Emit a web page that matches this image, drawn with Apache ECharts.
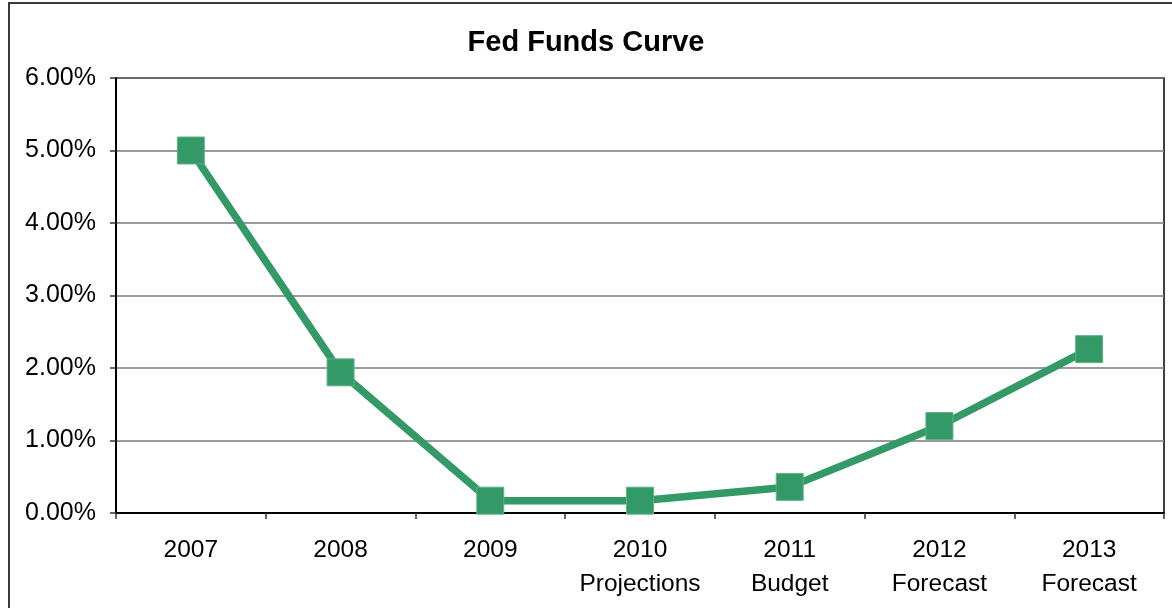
<!DOCTYPE html>
<html>
<head>
<meta charset="utf-8">
<title>Fed Funds Curve</title>
<script src="https://cdn.jsdelivr.net/npm/echarts@6/dist/echarts.min.js"></script>
<style>
  html, body { margin: 0; padding: 0; background: #fff; overflow: hidden; }
  #chart { width: 1172px; height: 608px; }
</style>
</head>
<body>
<div id="chart"></div>
<script>
// Fed funds rate by year (percent)
const years = ['2007', '2008', '2009', '2010', '2011', '2012', '2013'];
const subLabels = ['', '', '', 'Projections', 'Budget', 'Forecast', 'Forecast'];
const rates = [5.00, 1.94, 0.17, 0.17, 0.36, 1.20, 2.26];
const yTicks = { min: 0, max: 6, interval: 1 };

const categories = years.map((y, i) => subLabels[i] ? y + '\n' + subLabels[i] : y);

const chart = echarts.init(document.getElementById('chart'));
const font = '"Liberation Sans", Arial, sans-serif';

chart.setOption({
  animation: false,
  backgroundColor: '#fff',
  title: {
    text: 'Fed Funds Curve',
    left: 'center',
    top: 23,
    textStyle: { fontFamily: font, fontSize: 29, fontWeight: 'bold', color: '#000' }
  },
  graphic: [{
    type: 'rect',
    shape: { x: 9, y: 3, width: 1300, height: 800 },
    style: { fill: 'none', stroke: '#3a3a3a', lineWidth: 2 },
    silent: true
  }],
  grid: {
    left: 116, right: 8, top: 78, bottom: 95,
    show: true, borderColor: '#000', borderWidth: 1.5, backgroundColor: 'transparent'
  },
  xAxis: {
    type: 'category',
    data: categories,
    boundaryGap: true,
    axisLine: { lineStyle: { color: '#000', width: 2 } },
    axisTick: { show: true, length: 6, inside: false, lineStyle: { color: '#333', width: 1.5 } },
    axisLabel: {
      margin: 20, fontFamily: font, fontSize: 24.5, color: '#000', lineHeight: 34,
      interval: 0
    },
    splitLine: { show: false }
  },
  yAxis: {
    type: 'value',
    min: yTicks.min, max: yTicks.max, interval: yTicks.interval,
    axisLine: { show: true, lineStyle: { color: '#000', width: 2 } },
    axisTick: { show: true, length: 6, inside: false, lineStyle: { color: '#333', width: 1.5 } },
    axisLabel: {
      margin: 20, fontFamily: font, fontSize: 25, color: '#000',
      formatter: v => v.toFixed(2) + '%'
    },
    splitLine: { show: true, lineStyle: { color: '#7a7a7a', width: 1.5 } }
  },
  series: [{
    type: 'line',
    data: rates,
    symbol: 'rect',
    symbolSize: 27,
    showAllSymbol: true,
    lineStyle: { color: '#339966', width: 7.5 },
    itemStyle: { color: '#339966', borderColor: '#5fb38a', borderWidth: 1 },
    z: 5
  }]
});
</script>
</body>
</html>
